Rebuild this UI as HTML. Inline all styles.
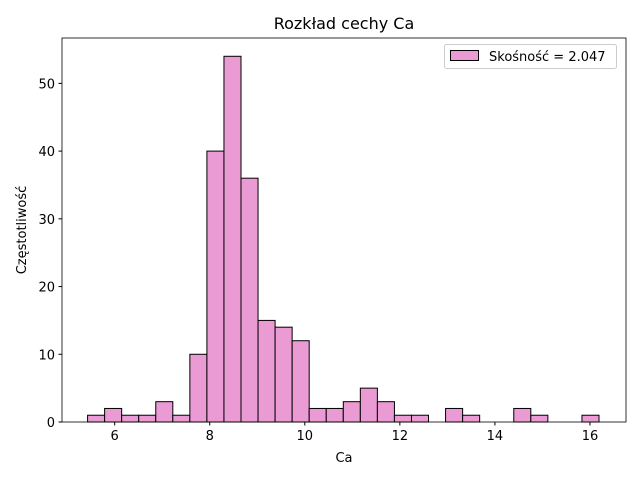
<!DOCTYPE html>
<html><head><meta charset="utf-8"><style>body{margin:0;background:#fff}svg{font-family:"DejaVu Sans","Liberation Sans",sans-serif}</style></head>
<body>
<svg id="c" width="640" height="480" xmlns="http://www.w3.org/2000/svg"></svg>
<script>
const counts=[1,2,1,1,3,1,10,40,54,36,15,14,12,2,2,3,5,3,1,1,0,2,1,0,0,2,1,0,0,1];
const binStart=5.43, binEnd=16.19;
const xTicks=[6,8,10,12,14,16];
const yTicks=[0,10,20,30,40,50];
const L=62,R=626,T=38,B=422;
const xMin=4.892,xMax=16.758,yMax=56.7;
const X=v=>L+(v-xMin)/(xMax-xMin)*(R-L);
const Y=v=>B-v/yMax*(B-T);
const s=document.getElementById('c');const NS='http://www.w3.org/2000/svg';
function el(t,a,p){const e=document.createElementNS(NS,t);for(const k in a)e.setAttribute(k,a[k]);(p||s).appendChild(e);return e;}
const w=(binEnd-binStart)/counts.length;
counts.forEach((c,i)=>{if(!c)return;const x0=X(binStart+i*w),x1=X(binStart+(i+1)*w);
const r=el('rect',{x:x0,y:Y(c),width:x1-x0,height:Y(0)-Y(c),fill:'#ea9bd3',stroke:'#000','stroke-width':1});

});
const ax=el('rect',{x:L,y:T,width:R-L,height:B-T,fill:'none',stroke:'#000','stroke-width':0.8});


xTicks.forEach(v=>{el('line',{x1:X(v),x2:X(v),y1:B,y2:B+3.5,stroke:'#000'});
const t=el('text',{x:X(v),y:B+18,'text-anchor':'middle','font-size':'13px'});t.textContent=v;

});
yTicks.forEach(v=>{el('line',{x1:L-3.5,x2:L,y1:Y(v),y2:Y(v),stroke:'#000'});
const t=el('text',{x:L-7,y:Y(v)+5,'text-anchor':'end','font-size':'13px'});t.textContent=v;

});
</script>
<svg width="640" height="480" style="position:absolute;left:0;top:0" xmlns="http://www.w3.org/2000/svg" font-family="DejaVu Sans, Liberation Sans, sans-serif">
<text x="344" y="29" text-anchor="middle" font-size="16">Rozkład cechy Ca</text>
<text x="344" y="462" text-anchor="middle" font-size="13">Ca</text>
<text transform="translate(26,230) rotate(-90)" text-anchor="middle" font-size="13">Częstotliwość</text>
<g>
<rect x="444.5" y="44.5" width="172" height="24" rx="2" fill="#fff" stroke="#ccc"/>
<rect x="450.5" y="50.5" width="28" height="10" fill="#ea9bd3" stroke="#000"/>
<text x="489" y="61" font-size="13">Skośność = 2.047</text>
</g>
</svg>
</body></html>
